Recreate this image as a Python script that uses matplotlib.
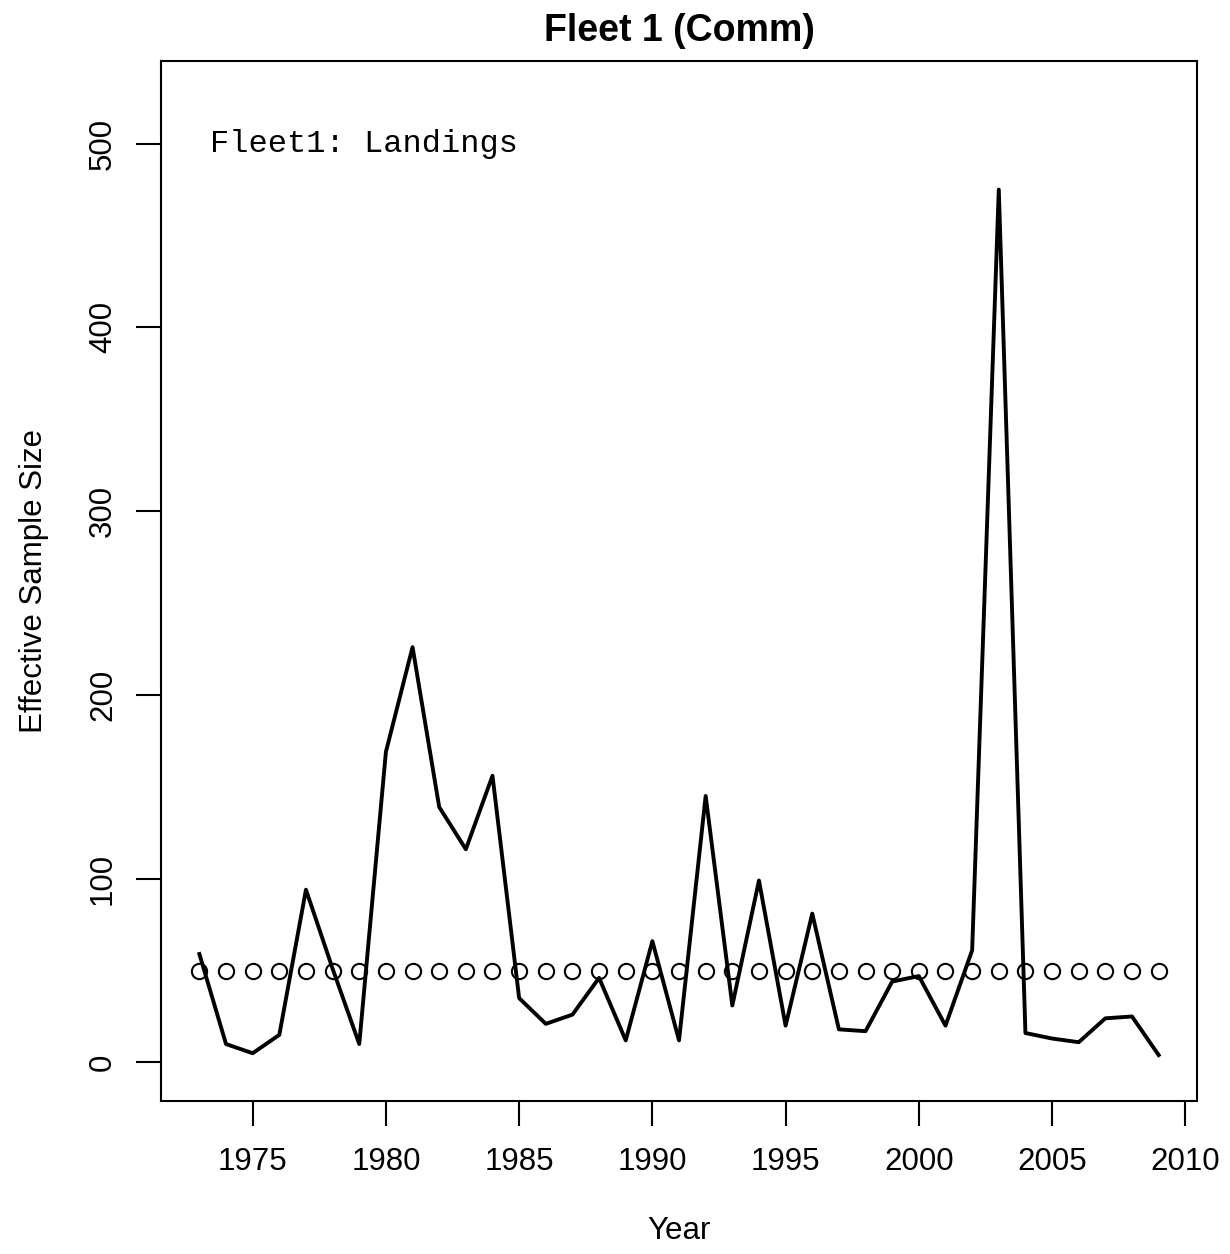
import matplotlib
matplotlib.use("Agg")
import matplotlib.pyplot as plt

# effective sample size by year, fleet 1 landings
years = list(range(1973, 2010))
eff_n = [59, 10, 5, 15, 94, 51, 10, 169, 226, 139, 116, 156, 35, 21, 26, 46,
         12, 66, 12, 145, 31, 99, 20, 81, 18, 17, 44, 47, 20, 61, 475, 16, 13,
         11, 24, 25, 4]
input_n = [50] * len(years)

plt.rcParams['font.family'] = ['Liberation Sans', 'DejaVu Sans']

fig = plt.figure(figsize=(12.3, 12.54), dpi=100)
ax = fig.add_axes([0.1309, 0.122, 0.8423, 0.8294])

ax.plot(years, input_n, 'o', mfc='none', mec='black', ms=11, mew=1.5)
ax.plot(years, eff_n, '-', color='black', lw=2.8)

ax.set_xlim(1973 - 0.04 * 36, 2009 + 0.04 * 36)
ax.set_ylim(-21, 545)

ax.set_xticks(range(1975, 2011, 5))
ax.set_yticks(range(0, 501, 100))
ax.tick_params(axis='both', direction='out', length=18, width=1.5,
               labelsize=22.5)
ax.tick_params(axis='x', pad=15)
ax.tick_params(axis='y', pad=13)
for lab in ax.get_yticklabels():
    lab.set_rotation(90)
    lab.set_va('center')
for sp in ax.spines.values():
    sp.set_linewidth(1.5)

ax.set_title('Fleet 1 (Comm)', fontsize=27, fontweight='bold', pad=14)
ax.set_xlabel('Year', fontsize=22.5, labelpad=28)
ax.set_ylabel('Effective Sample Size', fontsize=22.5, labelpad=28)

ax.text(1973.4, 500, 'Fleet1: Landings', family='Liberation Mono',
        fontsize=23, ha='left', va='center')

fig.savefig('out.png', dpi=100)
